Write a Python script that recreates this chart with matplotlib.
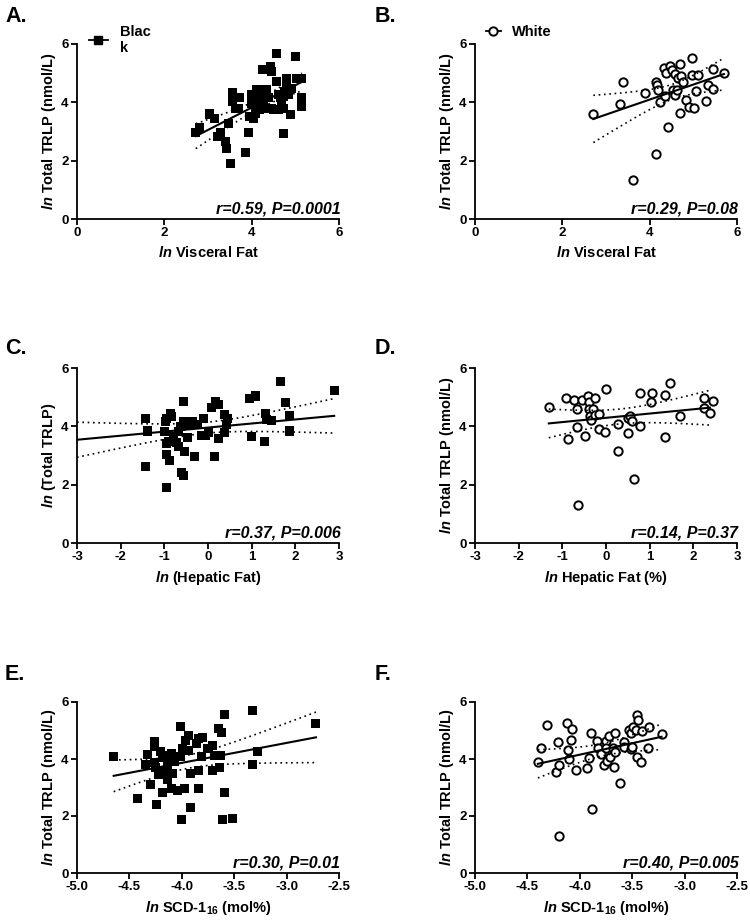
import numpy as np
import matplotlib
matplotlib.use("Agg")
import matplotlib.pyplot as plt
from matplotlib.lines import Line2D

plt.rcParams["font.family"] = ["Liberation Sans", "DejaVu Sans"]
plt.rcParams["font.weight"] = "bold"
plt.rcParams["mathtext.fontset"] = "custom"
plt.rcParams["mathtext.rm"] = "Liberation Sans:bold"
plt.rcParams["mathtext.it"] = "Liberation Sans:italic:bold"
plt.rcParams["mathtext.bf"] = "Liberation Sans:bold"

# ---- data ----
# A: Black, ln visceral fat vs ln total TRLP
a_x = [2.72, 2.81, 3.03, 3.14, 3.21, 3.29, 3.46, 3.39, 3.43, 3.52, 3.55, 3.55, 3.62, 3.73,
       3.69, 3.92, 3.86, 4.00, 4.00, 3.96, 4.04, 4.08, 4.11, 4.23, 4.34, 4.15, 4.19, 4.24,
       4.42, 4.46, 4.38, 4.38, 4.50, 4.58, 4.58, 4.61, 4.61, 4.69, 4.72, 4.72, 4.76, 4.80,
       4.80, 4.84, 4.88, 5.00, 4.92, 5.02, 5.15, 5.15, 5.15, 4.04, 4.27, 4.46, 4.65, 4.72,
       4.19, 4.31]
a_y = [2.97, 3.12, 3.60, 3.46, 2.83, 2.97, 3.29, 2.66, 2.43, 1.91, 4.32, 4.03, 3.80, 4.15,
       3.80, 2.97, 2.29, 4.26, 3.97, 3.52, 3.46, 3.63, 4.43, 4.43, 4.43, 4.09, 3.75, 5.12,
       5.23, 5.06, 4.15, 3.80, 3.75, 5.69, 4.72, 4.26, 3.75, 4.03, 2.94, 3.80, 4.38, 4.66,
       4.83, 4.26, 3.57, 5.56, 4.49, 4.83, 4.83, 4.15, 3.86, 3.92, 4.03, 3.80, 4.15, 4.20,
       4.26, 4.20]

# B: White, ln visceral fat vs ln total TRLP
b_x = [2.71, 3.31, 3.39, 3.61, 3.90, 4.15, 4.17, 4.19, 4.15, 4.23, 4.36, 4.33, 4.38, 4.46,
       4.41, 4.51, 4.53, 4.59, 4.59, 4.63, 4.65, 4.69, 4.70, 4.72, 4.76, 4.84, 4.89, 4.97,
       4.97, 5.01, 5.05, 5.10, 5.30, 5.33, 5.45, 5.45, 5.70]
b_y = [3.59, 3.94, 4.68, 1.32, 4.33, 4.68, 4.60, 4.43, 2.22, 4.02, 4.20, 5.17, 5.02, 5.23,
       3.16, 5.11, 4.43, 4.97, 4.25, 4.43, 4.83, 5.32, 3.64, 4.91, 4.68, 4.08, 3.83, 5.52,
       4.94, 3.79, 4.40, 4.94, 4.05, 4.60, 4.45, 5.14, 5.00]

# C: Black, ln hepatic fat vs ln total TRLP
c_x = [-1.42, -1.38, -1.43, -1.00, -0.98, -0.94, -0.87, -0.83, -0.94, -0.90, -0.94, -0.88,
       -0.96, -0.78, -0.72, -0.68, -0.67, -0.63, -0.55, -0.55, -0.48, -0.54, -0.61, -0.56,
       -0.48, -0.44, -0.36, -0.25, -0.30, -0.11, -0.14, -0.05, 0.02, 0.08, 0.18, 0.24, 0.15,
       0.24, 0.37, 0.45, 0.42, 0.38, 0.95, 1.09, 0.99, 1.31, 1.33, 1.45, 1.29, 1.65, 1.77,
       1.87, 1.87, 2.89]
c_y = [4.27, 3.84, 2.63, 3.82, 4.16, 4.27, 4.45, 4.33, 3.42, 3.47, 3.02, 2.82, 1.91, 3.65,
       3.45, 3.30, 3.82, 3.99, 4.85, 4.16, 4.16, 3.13, 2.42, 2.31, 3.62, 4.05, 4.16, 4.05,
       2.96, 4.27, 3.70, 3.70, 3.79, 4.65, 4.85, 4.74, 2.96, 3.59, 4.39, 4.27, 4.05, 3.78,
       4.96, 5.04, 3.64, 4.45, 4.24, 4.21, 3.47, 5.53, 4.82, 4.36, 3.84, 5.22]

# D: White, ln hepatic fat (%) vs ln total TRLP
d_x = [-1.31, -0.92, -0.88, -0.73, -0.66, -0.66, -0.55, -0.48, -0.41, -0.38, -0.40, -0.37,
       -0.35, -0.29, -0.25, -0.25, -0.15, -0.17, -0.64, -0.02, 0.01, 0.27, 0.27, 0.51, 0.56,
       0.60, 0.51, 0.63, 0.79, 0.79, 1.02, 1.06, 1.34, 1.47, 1.34, 1.70, 2.25, 2.24, 2.38,
       2.44]
d_y = [4.65, 4.98, 3.56, 4.92, 4.58, 3.99, 4.90, 3.66, 5.05, 4.84, 4.58, 4.35, 4.21, 4.61,
       4.98, 4.39, 4.42, 3.91, 1.31, 3.79, 5.28, 4.07, 3.15, 4.30, 4.37, 4.17, 3.76, 2.19,
       4.01, 5.13, 4.84, 5.16, 5.09, 5.47, 3.62, 4.37, 4.96, 4.64, 4.45, 4.87]

# E: Black, ln SCD-1_16 vs ln total TRLP
e_x = [-4.65, -4.42, -4.33, -4.35, -4.30, -4.26, -4.26, -4.26, -4.25, -4.24, -4.22, -4.20,
       -4.18, -4.17, -4.18, -4.15, -4.14, -4.14, -4.12, -4.10, -4.10, -4.09, -4.07, -4.04,
       -4.01, -4.01, -4.00, -3.99, -3.97, -3.96, -3.94, -3.94, -3.92, -3.92, -3.86, -3.84,
       -3.84, -3.84, -3.81, -3.80, -3.75, -3.71, -3.71, -3.69, -3.65, -3.64, -3.63, -3.62,
       -3.61, -3.59, -3.59, -3.52, -3.33, -3.33, -3.28, -2.72]
e_y = [4.08, 2.62, 4.17, 3.79, 3.12, 4.60, 4.45, 3.87, 3.71, 2.39, 3.44, 4.25, 4.06, 3.61,
       2.82, 4.14, 3.79, 3.29, 3.96, 2.97, 4.20, 3.50, 3.90, 2.91, 5.13, 4.08, 1.86, 4.37,
       2.97, 4.66, 4.84, 4.31, 3.50, 2.31, 4.55, 4.72, 3.61, 2.97, 4.08, 4.76, 4.37, 4.49,
       3.61, 4.14, 5.07, 3.71, 4.14, 4.92, 1.89, 5.55, 2.82, 1.92, 5.71, 3.79, 4.28, 5.24]

# F: White, ln SCD-1_16 vs ln total TRLP
f_x = [-4.40, -4.37, -4.31, -4.23, -4.21, -4.20, -4.20, -4.12, -4.11, -4.10, -4.08, -4.07,
       -4.04, -3.93, -3.91, -3.89, -3.88, -3.84, -3.83, -3.80, -3.77, -3.75, -3.75, -3.74,
       -3.72, -3.71, -3.68, -3.67, -3.66, -3.66, -3.62, -3.58, -3.58, -3.53, -3.51, -3.51,
       -3.50, -3.49, -3.46, -3.45, -3.44, -3.45, -3.42, -3.41, -3.35, -3.34, -3.22]
f_y = [3.91, 4.37, 5.19, 3.56, 4.58, 3.79, 1.30, 5.27, 4.32, 3.99, 4.66, 5.07, 3.62, 3.68,
       4.03, 4.90, 2.23, 4.63, 4.37, 4.18, 3.79, 4.64, 4.37, 3.93, 4.80, 4.08, 4.37, 3.71,
       4.26, 4.92, 3.16, 4.61, 4.43, 5.01, 4.92, 4.34, 4.43, 5.13, 5.03, 5.53, 5.38, 4.08,
       3.91, 4.99, 4.37, 5.13, 4.87]

# regression lines as printed in the figure: (x start, x end, y start, y end)
fit_lines = [(2.72, 5.15, 2.84, 4.70),
             (2.71, 5.70, 3.43, 4.97),
             (-3.00, 2.89, 3.54, 4.36),
             (-1.31, 2.38, 4.10, 4.64),
             (-4.65, -2.72, 3.41, 4.76),
             (-4.40, -3.22, 3.83, 4.78)]

stats = ["r=0.59, P=0.0001", "r=0.29, P=0.08", "r=0.37, P=0.006",
         "r=0.14, P=0.37", "r=0.30, P=0.01", "r=0.40, P=0.005"]
panel_letters = ["A.", "B.", "C.", "D.", "E.", "F."]

LN = r"$\mathit{ln}$"
xlabels = [LN + " Visceral Fat", LN + " Visceral Fat",
           LN + r" $\mathit{(}$Hepatic Fat)", LN + " Hepatic Fat (%)",
           LN + r" SCD-1$_{16}$ (mol%)", LN + r" SCD-1$_{16}$ (mol%)"]
ylabels = [LN + " Total TRLP (nmol/L)", LN + " Total TRLP (nmol/L)",
           LN + " (Total TRLP)", LN + " Total TRLP (nmol/L)",
           LN + " Total TRLP (nmol/L)", LN + " Total TRLP (nmol/L)"]

xticks_visc = [0, 2, 4, 6]
xticks_hep = [-3, -2, -1, 0, 1, 2, 3]
xticks_scd = [-5.0, -4.5, -4.0, -3.5, -3.0, -2.5]
yticks = [0, 2, 4, 6]

panels = [
    (a_x, a_y, "s", xticks_visc, "%d"),
    (b_x, b_y, "o", xticks_visc, "%d"),
    (c_x, c_y, "s", xticks_hep, "%d"),
    (d_x, d_y, "o", xticks_hep, "%d"),
    (e_x, e_y, "s", xticks_scd, "%.1f"),
    (f_x, f_y, "o", xticks_scd, "%.1f"),
]

# axes rectangles in pixels
W, H = 750, 922
cols = [77, 475]
rows = [(44, 219), (368, 543), (702, 873)]


def line_with_band(x, y, line):
    # 95% band around the printed line, shaped by the scatter of the points
    x = np.asarray(x)
    y = np.asarray(y)
    x0, x1, y0, y1 = line
    slope = (y1 - y0) / (x1 - x0)
    icpt = y0 - slope * x0
    xs = np.linspace(x0, x1, 100)
    yhat = icpt + slope * xs
    n = len(x)
    resid = y - (icpt + slope * x)
    s = np.sqrt(np.sum(resid**2) / (n - 2))
    xm = x.mean()
    se = s * np.sqrt(1.0 / n + (xs - xm) ** 2 / np.sum((x - xm) ** 2))
    t = 2.0
    return xs, yhat, yhat - t * se, yhat + t * se


fig = plt.figure(figsize=(7.5, 9.22), dpi=100)

for i, (x, y, mk, xt, fmt) in enumerate(panels):
    r, c = divmod(i, 2)
    top, bot = rows[r]
    ax = fig.add_axes([cols[c] / W, 1 - bot / H, 262 / W, (bot - top) / H])
    if mk == "s":
        ax.scatter(x, y, marker="s", s=42, c="black", edgecolors="none", zorder=3, clip_on=False)
    else:
        ax.scatter(x, y, marker="o", s=36, facecolors="white", edgecolors="black",
                   linewidths=1.4, zorder=3, clip_on=False)
    xs, yh, ylo, yhi = line_with_band(x, y, fit_lines[i])
    ax.plot(xs, yh, color="black", lw=1.5, zorder=4)
    ax.plot(xs, ylo, color="black", lw=1.2, ls=(0, (1, 2.2)), zorder=4)
    ax.plot(xs, yhi, color="black", lw=1.2, ls=(0, (1, 2.2)), zorder=4)

    ax.set_xlim(xt[0], xt[-1])
    ax.set_ylim(0, 6)
    ax.set_xticks(xt)
    ax.set_xticklabels([fmt % v for v in xt])
    ax.set_yticks(yticks)
    for sp in ["top", "right"]:
        ax.spines[sp].set_visible(False)
    for sp in ["left", "bottom"]:
        ax.spines[sp].set_linewidth(1.3)
    ax.tick_params(direction="out", length=4, width=1.3, labelsize=9.5, pad=2)
    for lab in ax.get_xticklabels() + ax.get_yticklabels():
        lab.set_fontweight("bold")

    ax.set_xlabel(xlabels[i], fontsize=10.5, fontweight="bold", labelpad=4)
    ax.set_ylabel(ylabels[i], fontsize=10.5, fontweight="bold", labelpad=2)

    ax.text(1.005, 0.012, stats[i], transform=ax.transAxes, ha="right", va="bottom",
            fontsize=11.5, fontweight="bold", fontstyle="italic")

    fig.text((5 if c == 0 else 375) / W, 1 - ((16 if r == 0 else (349 if r == 1 else 674)) / H),
             panel_letters[i], fontsize=15.5, fontweight="bold", va="center", ha="left")

# legends (panels A and B only)
h_black = Line2D([], [], color="black", lw=1.3, marker="s", markersize=6)
h_white = Line2D([], [], color="black", lw=1.3, marker="o", markersize=6,
                 markerfacecolor="white", markeredgewidth=1.4)
fig.legend([h_black], ["Blac\nk"], loc="center left", bbox_to_anchor=(89 / W, 1 - 40 / H),
           frameon=False, handlelength=1.3, handletextpad=0.8,
           borderaxespad=0, borderpad=0, prop={"weight": "bold", "size": 10.5})
fig.legend([h_white], ["White"], loc="center left", bbox_to_anchor=(486 / W, 1 - 32 / H),
           frameon=False, handlelength=1.0, handletextpad=0.8,
           borderaxespad=0, borderpad=0, prop={"weight": "bold", "size": 10.5})

plt.savefig("out.png", dpi=100)
